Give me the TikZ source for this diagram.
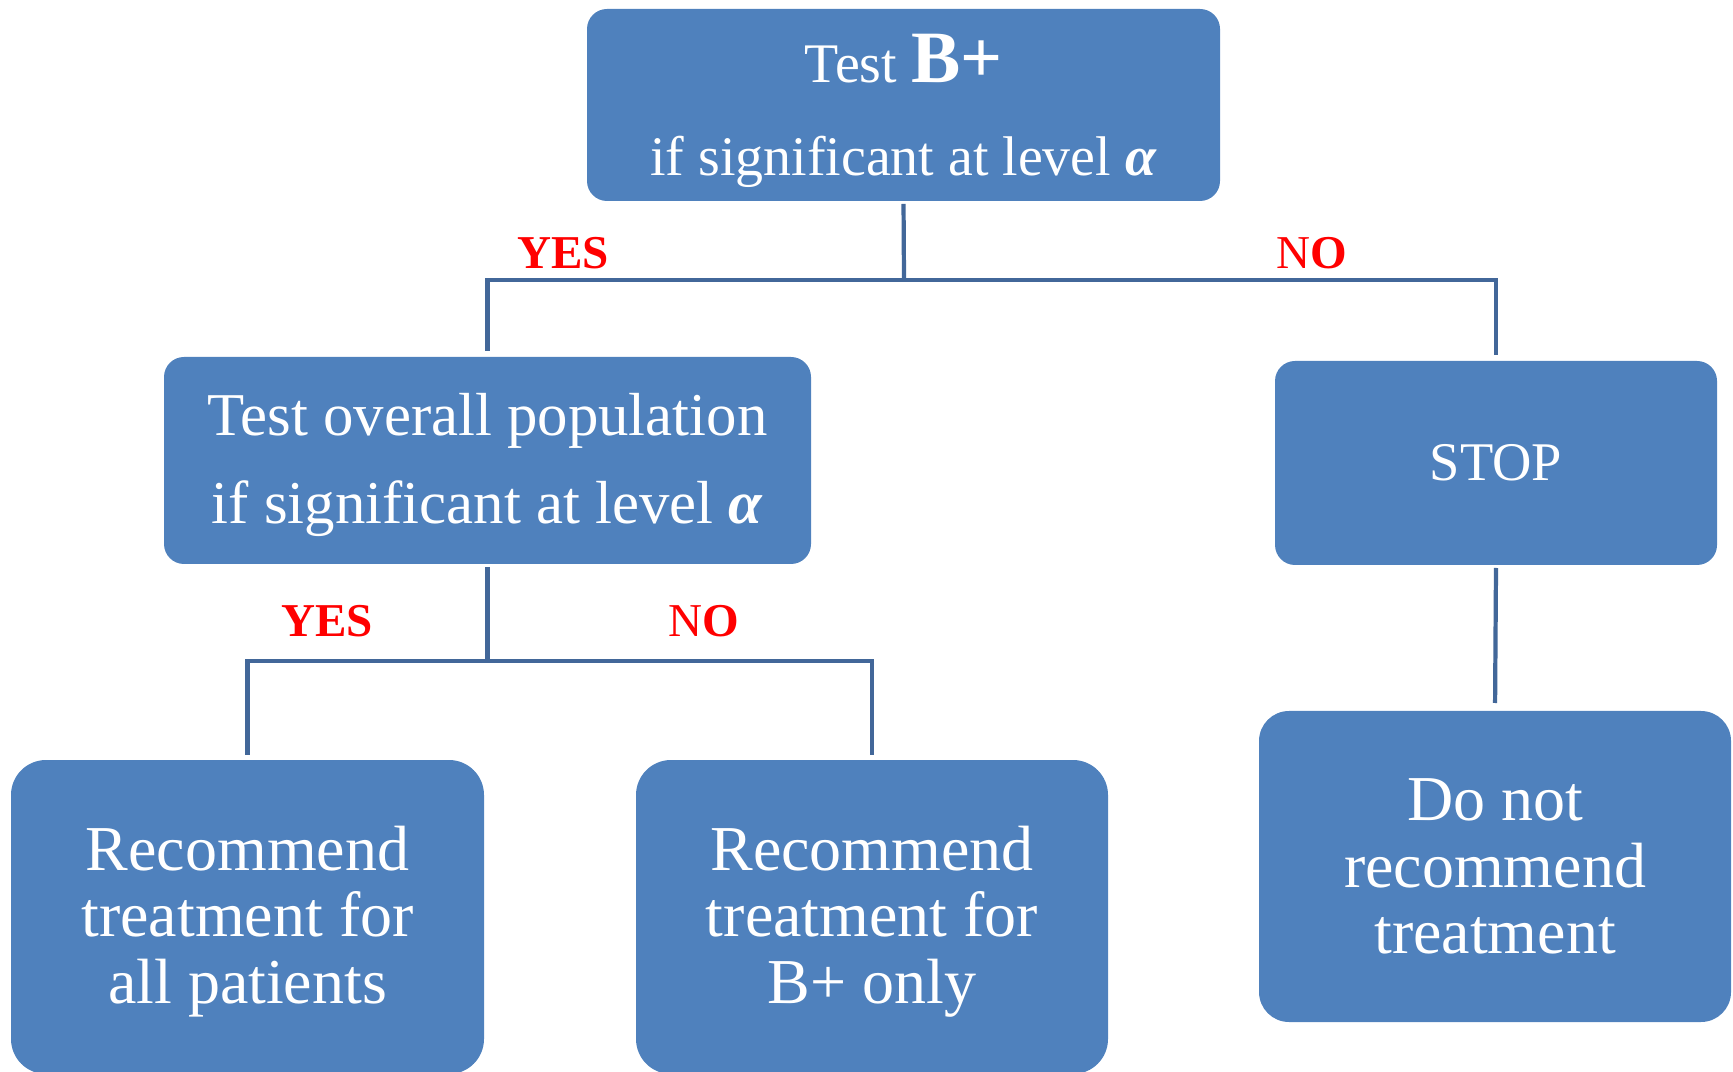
\documentclass[tikz,border=0pt]{standalone}
\usepackage{fontspec}
\setmainfont{Liberation Serif}
\definecolor{boxblue}{RGB}{79,129,189}
\definecolor{linkblue}{RGB}{66,103,153}
\definecolor{ansred}{RGB}{255,0,0}
\newcommand{\boxstrut}[1]{\rule{0pt}{#1}}

\begin{document}
\begin{tikzpicture}[
  box/.style={fill=boxblue, text=white, rounded corners=0.2cm, inner sep=0pt, outer sep=0pt, align=center},
  link/.style={draw=linkblue, line width=1.2pt},
  ans/.style={text=ansred, font=\fontsize{13.4}{16}\selectfont\bfseries}]
\useasboundingbox (0,0) rectangle (17.33,10.71);
\node[box, minimum width=6.33cm, minimum height=1.92cm, font=\fontsize{15.9}{26.2}\selectfont] (testb) at (9.035,9.66)
  {\boxstrut{0.60cm}Test {\fontsize{21}{21}\selectfont\bfseries B+}\\ if significant at level \textbf{\textit{α}}};
\node[box, minimum width=6.47cm, minimum height=2.07cm, font=\fontsize{17.3}{24.8}\selectfont] (testall) at (4.875,6.105)
  {\boxstrut{0.51cm}Test overall population\\ if significant at level \textbf{\textit{α}}};
\node[box, minimum width=4.42cm, minimum height=2.04cm, font=\fontsize{15.5}{18}\selectfont] (stop) at (14.96,6.08) {STOP};
\node[box, rounded corners=0.35cm, minimum width=4.73cm, minimum height=3.14cm, font=\fontsize{18.2}{18.9}\selectfont] (recall) at (2.475,1.54)
  {\boxstrut{0.53cm}Recommend\\ treatment for\\ all patients};
\node[box, rounded corners=0.35cm, minimum width=4.72cm, minimum height=3.14cm, font=\fontsize{18.2}{18.9}\selectfont] (recbp) at (8.72,1.54)
  {\boxstrut{0.53cm}Recommend\\ treatment for\\ B+ only};
\node[box, rounded corners=0.3cm, minimum width=4.72cm, minimum height=3.11cm, font=\fontsize{18.2}{18.9}\selectfont] (norec) at (14.95,2.045)
  {Do not\\ recommend\\ treatment};
% branch points
\coordinate (split1) at (9.04,7.91);
\coordinate (split2) at (4.875,4.10);
\draw[link, shorten <=0.03cm] (testb.south) -- (split1);
\draw[link, shorten >=0.06cm] (split1) -| (testall.north); \draw[link, shorten >=0.06cm] (split1) -| (stop.north);
\draw[link, shorten <=0.03cm] (testall.south) -- (split2);
\draw[link, shorten >=0.05cm] (split2) -| (recall.north); \draw[link, shorten >=0.05cm] (split2) -| (recbp.north);
\draw[link, shorten <=0.03cm, shorten >=0.08cm] (stop.south) -- (norec.north);
\node[ans] (yes1) at (5.63,8.18) {YES};
\node[ans] (no1) at (13.12,8.18) {\mdseries N\bfseries O};
\node[ans] (yes2) at (3.27,4.50) {YES};
\node[ans] (no2) at (7.04,4.50) {\mdseries N\bfseries O};
\end{tikzpicture}
\end{document}
